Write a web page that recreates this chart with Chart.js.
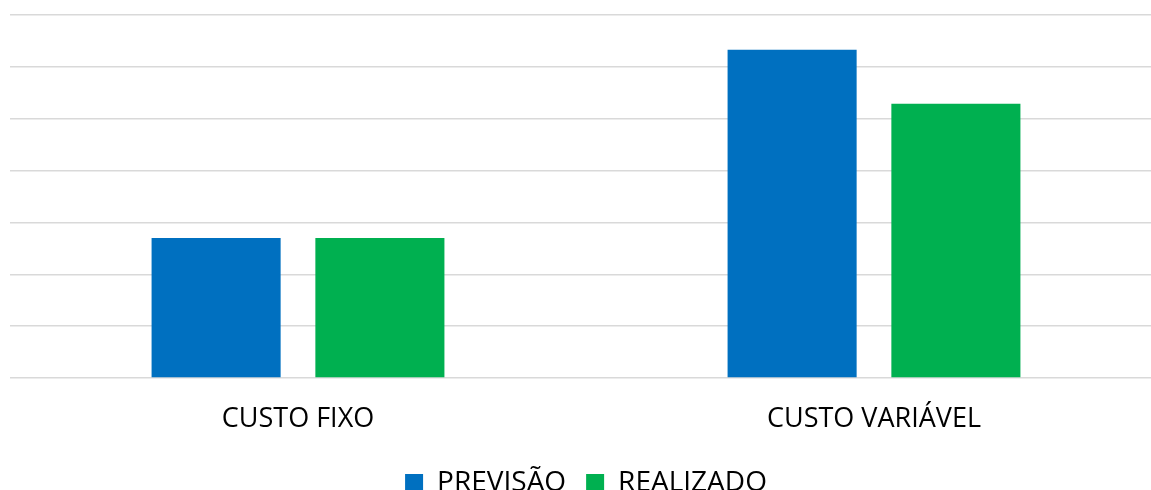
<!DOCTYPE html>
<html>
<head>
<meta charset="utf-8">
<script src="https://cdn.jsdelivr.net/npm/chart.js@4"></script>
<style>
  html, body { margin: 0; padding: 0; overflow: hidden; background: #fff; }
  #wrap { position: absolute; left: 0; top: 0; width: 1162px; height: 507px; }
</style>
</head>
<body>
<div id="wrap"><canvas id="chart" width="1162" height="507"></canvas></div>
<script>
const categories = ["CUSTO FIXO", "CUSTO VARIÁVEL"];
const previsao = [2.7, 6.33];
const realizado = [2.7, 5.29];
const seriesNames = ["PREVISÃO", "REALIZADO"];

const fontFamily = "'Open Sans', sans-serif";

window.addEventListener("load", setup);
function setup() {
  const ctx = document.getElementById("chart").getContext("2d");
  new Chart(ctx, {
    type: "bar",
    data: {
      labels: categories,
      datasets: [
        {
          label: seriesNames[0],
          data: previsao,
          backgroundColor: "#0070C0",
          categoryPercentage: 0.5687,
          barPercentage: 0.788,
        },
        {
          label: seriesNames[1],
          data: realizado,
          backgroundColor: "#00B050",
          categoryPercentage: 0.5687,
          barPercentage: 0.788,
        },
      ],
    },
    options: {
      responsive: false,
      animation: false,
      layout: { padding: { left: 10, right: 0, top: 15, bottom: 0 } },
      scales: {
        y: {
          min: 0,
          max: 7,
          ticks: { display: false, stepSize: 1 },
          border: { display: false },
          grid: { color: "#d9d9d9", lineWidth: 1.5, drawTicks: false },
          afterFit: (scale) => { scale.width = 0; },
        },
        x: {
          ticks: { color: "#000", font: { family: fontFamily, size: 27 }, padding: 25 },
          grid: { display: false, drawTicks: false },
          border: { display: false },
          afterFit: (scale) => { scale.height = 71; },
        },
      },
      plugins: {
        legend: {
          position: "bottom",
          labels: {
            color: "#000",
            font: { family: fontFamily, size: 28 },
            boxWidth: 18,
            boxHeight: 18,
            padding: 20,
          },
        },
        tooltip: { enabled: false },
      },
    },
  });
}
</script>
</body>
</html>
